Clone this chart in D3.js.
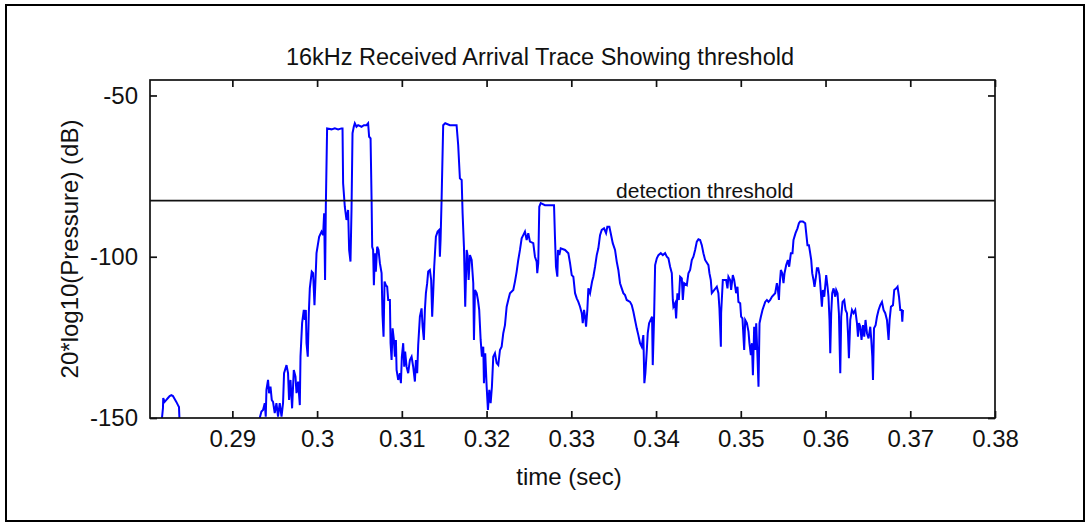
<!DOCTYPE html>
<html><head><meta charset="utf-8">
<script src="https://cdn.jsdelivr.net/npm/d3@7"></script>
<style>body{margin:0;background:#fff;overflow:hidden}</style>
</head><body>
<svg id="c" width="1090" height="523"></svg>
<script>
const title = "16kHz Received Arrival Trace Showing threshold";
const xLabel = "time (sec)";
const yLabel = "20*log10(Pressure) (dB)";
const xTicks = [0.29, 0.30, 0.31, 0.32, 0.33, 0.34, 0.35, 0.36, 0.37, 0.38];
const xTickLabels = ["0.29", "0.3", "0.31", "0.32", "0.33", "0.34", "0.35", "0.36", "0.37", "0.38"];
const yTicks = [-150, -100, -50];
const yTickLabels = ["-150", "-100", "-50"];
const xDomain = [0.28028, 0.38];
const yDomain = [-150, -45.2];
const threshold = -82.6;
const thresholdLabel = "detection threshold";
const thresholdLabelTime = 0.33528;

// received trace: time (s) and level (dB)
const time = [
0.28162,0.28181,0.28184,0.28201,0.28221,0.28240,0.28260,0.28280,0.28299,0.28319,0.28339,0.28358,0.28370,0.28378,
0.29303,0.29343,0.29362,0.29382,0.29394,0.29402,0.29421,0.29433,0.29450,0.29465,0.29480,0.29500,0.29520,0.29539,0.29559,0.29580,
0.29598,0.29610,0.29639,0.29657,0.29669,0.29686,0.29705,0.29725,0.29745,0.29757,0.29776,0.29796,0.29804,0.29823,0.29843,0.29855,
0.29867,0.29875,0.29890,0.29902,0.29914,0.29937,0.29953,0.29969,0.29981,0.29993,0.30024,0.30052,0.30071,0.30083,0.30094,0.30103,
0.30118,0.30170,0.30209,0.30248,0.30288,0.30300,0.30307,0.30327,0.30347,0.30366,0.30378,0.30394,0.30406,0.30418,0.30433,0.30445,
0.30465,0.30484,0.30524,0.30552,0.30583,0.30602,0.30614,0.30631,0.30643,0.30650,0.30661,0.30670,0.30682,0.30693,0.30709,0.30725,
0.30741,0.30761,0.30772,0.30784,0.30796,0.30811,0.30827,0.30839,0.30859,0.30867,0.30879,0.30891,0.30906,0.30918,0.30930,0.30938,
0.30957,0.30977,0.30989,0.31000,0.31016,0.31028,0.31039,0.31056,0.31075,0.31095,0.31115,0.31134,0.31154,0.31166,0.31181,0.31193,
0.31213,0.31233,0.31245,0.31260,0.31272,0.31284,0.31299,0.31311,0.31331,0.31346,0.31358,0.31370,0.31382,0.31402,0.31422,0.31441,
0.31449,0.31457,0.31469,0.31488,0.31512,0.31567,0.31646,0.31665,0.31685,0.31706,0.31717,0.31733,0.31748,0.31765,0.31776,0.31788,
0.31804,0.31824,0.31843,0.31851,0.31863,0.31883,0.31898,0.31913,0.31930,0.31945,0.31961,0.31969,0.31984,0.32001,0.32016,0.32032,
0.32048,0.32063,0.32079,0.32099,0.32119,0.32138,0.32158,0.32178,0.32197,0.32217,0.32237,0.32256,0.32276,0.32315,0.32335,0.32355,
0.32374,0.32394,0.32414,0.32433,0.32453,0.32473,0.32492,0.32512,0.32551,0.32571,0.32591,0.32598,0.32610,0.32622,0.32639,0.32689,
0.32728,0.32796,0.32807,0.32819,0.32835,0.32843,0.32858,0.32875,0.32926,0.32965,0.32985,0.33005,0.33024,0.33044,0.33064,0.33083,
0.33103,0.33123,0.33135,0.33150,0.33162,0.33174,0.33189,0.33201,0.33221,0.33245,0.33260,0.33280,0.33300,0.33319,0.33339,0.33359,
0.33386,0.33410,0.33425,0.33449,0.33465,0.33489,0.33516,0.33536,0.33555,0.33575,0.33595,0.33614,0.33634,0.33654,0.33693,0.33713,
0.33732,0.33752,0.33772,0.33791,0.33811,0.33831,0.33850,0.33862,0.33874,0.33891,0.33902,0.33918,0.33953,0.33961,0.33977,0.33989,
0.34009,0.34028,0.34056,0.34080,0.34107,0.34127,0.34146,0.34166,0.34186,0.34198,0.34205,0.34225,0.34237,0.34252,0.34269,0.34284,
0.34304,0.34316,0.34331,0.34363,0.34382,0.34402,0.34422,0.34441,0.34461,0.34481,0.34500,0.34520,0.34540,0.34559,0.34579,0.34618,
0.34630,0.34646,0.34658,0.34717,0.34736,0.34748,0.34765,0.34768,0.34788,0.34827,0.34843,0.34854,0.34874,0.34886,0.34906,0.34922,
0.34945,0.34961,0.34972,0.34993,0.35004,0.35020,0.35040,0.35052,0.35072,0.35091,0.35102,0.35119,0.35131,0.35143,0.35158,0.35170,
0.35182,0.35197,0.35209,0.35221,0.35237,0.35256,0.35288,0.35308,0.35327,0.35347,0.35367,0.35406,0.35426,0.35438,0.35450,0.35457,
0.35473,0.35489,0.35504,0.35516,0.35536,0.35556,0.35571,0.35591,0.35610,0.35622,0.35646,0.35669,0.35686,0.35701,0.35733,0.35760,
0.35772,0.35787,0.35804,0.35819,0.35831,0.35843,0.35858,0.35870,0.35887,0.35898,0.35914,0.35929,0.35937,0.35957,0.35969,0.35985,
0.36008,0.36024,0.36035,0.36047,0.36056,0.36067,0.36079,0.36095,0.36115,0.36126,0.36142,0.36158,0.36174,0.36185,0.36201,0.36221,
0.36236,0.36253,0.36265,0.36276,0.36292,0.36312,0.36331,0.36351,0.36371,0.36383,0.36395,0.36410,0.36425,0.36442,0.36457,0.36472,
0.36489,0.36508,0.36528,0.36540,0.36552,0.36560,0.36572,0.36591,0.36607,0.36626,0.36646,0.36666,0.36685,0.36705,0.36725,0.36744,
0.36756,0.36772,0.36796,0.36811,0.36835,0.36850,0.36867,0.36882,0.36898,0.36906,0.36914
];
const level = [
-152,-146.9,-143.8,-145.0,-144.4,-143.8,-143.2,-142.9,-143.2,-144.1,-145.0,-146.0,-146.6,-152,
-152,-148.0,-147.5,-145.4,-149.6,-141.3,-138.2,-142.3,-140.3,-144.4,-145.0,-148.5,-145.4,-149.6,-145.4,-149.6,
-145.4,-136.1,-133.6,-136.1,-144.4,-138.2,-147.0,-135.1,-137.2,-142.3,-138.7,-146.0,-131.0,-120.6,-116.5,-119.6,
-116.5,-126.8,-131.0,-117.5,-109.8,-104.6,-105.1,-115.0,-107.2,-98.9,-93.8,-92.2,-93.3,-86.5,-107.2,-84.5,
-60.2,-60.5,-60.2,-60.5,-60.2,-60.2,-77.2,-84.5,-88.6,-85.5,-97.9,-101.5,-85.5,-61.7,-59.7,-58.6,
-59.7,-59.2,-59.7,-59.2,-59.2,-58.6,-62.8,-63.3,-82.4,-96.9,-97.9,-108.8,-98.9,-104.6,-96.9,-97.9,
-102.0,-105.1,-118.1,-124.8,-107.7,-108.8,-109.3,-113.4,-113.4,-126.8,-132.0,-122.2,-125.8,-131.0,-125.8,-135.1,
-138.2,-136.1,-139.2,-131.0,-126.8,-134.1,-129.4,-134.1,-136.1,-132.0,-131.0,-134.1,-138.7,-132.0,-136.1,-127.4,
-118.6,-116.0,-121.7,-125.8,-116.5,-111.3,-108.2,-104.6,-104.1,-107.2,-118.6,-111.3,-103.1,-93.8,-92.2,-91.7,
-100.0,-94.8,-82.4,-59.2,-58.6,-59.2,-59.2,-65.4,-75.7,-76.2,-86.5,-96.9,-115.5,-97.9,-99.5,-107.2,
-99.5,-101.0,-108.2,-125.8,-110.3,-111.3,-113.4,-116.5,-125.8,-131.0,-127.9,-139.2,-129.9,-140.3,-147.5,-141.3,
-145.4,-140.3,-131.0,-129.9,-133.0,-133.6,-128.9,-127.9,-123.7,-121.2,-115.5,-113.4,-111.3,-110.3,-107.7,-104.6,
-101.0,-97.9,-94.3,-93.3,-92.2,-94.8,-92.7,-95.3,-95.8,-100.0,-101.5,-105.1,-102.0,-84.5,-83.4,-84.0,
-84.0,-84.0,-93.8,-103.1,-106.2,-97.9,-99.5,-97.4,-97.9,-98.9,-102.0,-105.7,-106.2,-111.3,-112.9,-114.0,
-115.5,-117.5,-120.6,-116.5,-118.6,-121.7,-116.5,-109.8,-111.3,-107.7,-106.2,-103.1,-99.5,-97.4,-93.3,-91.7,
-91.2,-92.7,-90.7,-90.7,-92.7,-95.8,-97.9,-101.5,-104.1,-108.2,-109.8,-111.3,-111.9,-113.4,-114.0,-115.0,
-117.0,-119.6,-122.2,-124.3,-126.8,-127.9,-124.3,-139.2,-136.1,-128.9,-123.7,-120.6,-118.6,-133.6,-118.6,-102.6,
-100.5,-99.5,-98.9,-99.5,-98.9,-100.0,-100.5,-103.1,-105.1,-113.4,-115.5,-114.4,-119.1,-111.3,-113.4,-106.2,
-106.7,-113.4,-108.2,-108.8,-105.1,-104.1,-101.0,-100.0,-97.9,-95.3,-94.6,-94.8,-96.4,-98.9,-101.0,-102.6,
-105.1,-107.2,-111.3,-109.3,-111.3,-116.0,-127.9,-117.5,-107.2,-107.2,-109.8,-106.2,-107.2,-110.3,-105.7,-107.2,
-111.3,-109.3,-114.0,-114.4,-118.6,-119.1,-128.9,-119.6,-120.6,-123.2,-126.8,-130.5,-126.8,-136.7,-121.7,-128.9,
-120.6,-131.0,-140.3,-120.6,-118.6,-116.5,-114.0,-113.4,-114.0,-113.4,-112.4,-111.3,-108.2,-110.3,-113.4,-109.3,
-104.1,-105.1,-108.2,-105.1,-102.6,-101.0,-103.1,-98.9,-98.9,-94.8,-92.7,-91.2,-89.6,-89.1,-89.1,-89.6,
-92.7,-96.4,-96.4,-98.9,-101.0,-105.1,-107.2,-109.3,-106.2,-103.6,-103.6,-105.7,-108.2,-115.5,-110.3,-112.4,
-105.7,-109.3,-112.4,-119.6,-129.9,-117.5,-111.3,-109.8,-112.4,-110.3,-111.3,-117.5,-136.1,-118.6,-114.0,-113.4,
-116.5,-117.5,-123.7,-131.5,-119.6,-116.5,-117.5,-116.5,-120.6,-124.8,-120.6,-121.7,-125.8,-121.2,-124.8,-119.6,
-123.7,-125.3,-121.7,-125.8,-131.0,-138.2,-122.2,-121.2,-118.6,-116.5,-115.0,-114.0,-116.5,-117.5,-119.6,-125.8,
-119.6,-115.5,-115.0,-110.3,-109.8,-109.3,-112.4,-116.5,-116.5,-120.1,-116.5
];

const W = 1090, H = 523;
const m = {left: 150, top: 80, right: 995, bottom: 418};
const svg = d3.select("#c");
const font = "Liberation Sans, Arial, sans-serif";

const x = d3.scaleLinear().domain(xDomain).range([m.left, m.right]);
const y = d3.scaleLinear().domain(yDomain).range([m.bottom, m.top]);

// outer frame
svg.append("rect").attr("x", 6).attr("y", 5).attr("width", 1078).attr("height", 516)
  .attr("fill", "#fff").attr("stroke", "#000").attr("stroke-width", 2);

svg.append("defs").append("clipPath").attr("id", "clip")
  .append("rect").attr("x", m.left).attr("y", m.top)
  .attr("width", m.right - m.left).attr("height", m.bottom - m.top);

// trace
const pts = time.map((t, i) => [t, level[i]]);
svg.append("path").datum(pts)
  .attr("clip-path", "url(#clip)")
  .attr("fill", "none").attr("stroke", "#0000ff").attr("stroke-width", 2)
  .attr("stroke-linejoin", "miter")
  .attr("d", d3.line().x(d => x(d[0])).y(d => y(d[1])));

// threshold line
svg.append("line").attr("x1", x(xDomain[0])).attr("x2", x(xDomain[1]))
  .attr("y1", y(threshold)).attr("y2", y(threshold))
  .attr("stroke", "#111").attr("stroke-width", 1.7);
svg.append("text").attr("x", x(thresholdLabelTime)).attr("y", y(threshold) - 2.5)
  .attr("font-family", font).attr("font-size", 21).attr("fill", "#111")
  .text(thresholdLabel);

// axes
const fmtX = d => xTickLabels[xTicks.indexOf(d)];
const fmtY = d => yTickLabels[yTicks.indexOf(d)];
const gx = svg.append("g").attr("transform", `translate(0,${m.bottom})`)
  .call(d3.axisBottom(x).tickValues(xTicks).tickFormat(fmtX).tickSizeInner(-7).tickSizeOuter(0).tickPadding(12));
const gxt = svg.append("g").attr("transform", `translate(0,${m.top})`)
  .call(d3.axisTop(x).tickValues(xTicks).tickFormat("").tickSizeInner(-7).tickSizeOuter(0));
const gy = svg.append("g").attr("transform", `translate(${m.left},0)`)
  .call(d3.axisLeft(y).tickValues(yTicks).tickFormat(fmtY).tickSizeInner(-7).tickSizeOuter(0).tickPadding(12));
const gyr = svg.append("g").attr("transform", `translate(${m.right},0)`)
  .call(d3.axisRight(y).tickValues(yTicks).tickFormat("").tickSizeInner(-7).tickSizeOuter(0));
[gx, gxt, gy, gyr].forEach(g => {
  g.select(".domain").remove();
  g.selectAll("line").attr("stroke", "#111").attr("stroke-width", 1.7);
  g.selectAll("text").attr("font-family", font).attr("font-size", 24).attr("fill", "#111");
});

// box
svg.append("rect").attr("x", m.left).attr("y", m.top)
  .attr("width", m.right - m.left).attr("height", m.bottom - m.top)
  .attr("fill", "none").attr("stroke", "#111").attr("stroke-width", 1.7);

// title and labels
svg.append("text").attr("x", 540).attr("y", 65)
  .attr("text-anchor", "middle").attr("font-family", font).attr("font-size", 23.5).attr("fill", "#111")
  .text(title);
svg.append("text").attr("x", 569).attr("y", 485)
  .attr("text-anchor", "middle").attr("font-family", font).attr("font-size", 24).attr("fill", "#111")
  .text(xLabel);
svg.append("text").attr("transform", `translate(78,${(m.top + m.bottom) / 2}) rotate(-90)`)
  .attr("text-anchor", "middle").attr("font-family", font).attr("font-size", 24).attr("fill", "#111")
  .text(yLabel);
</script>
</body></html>
